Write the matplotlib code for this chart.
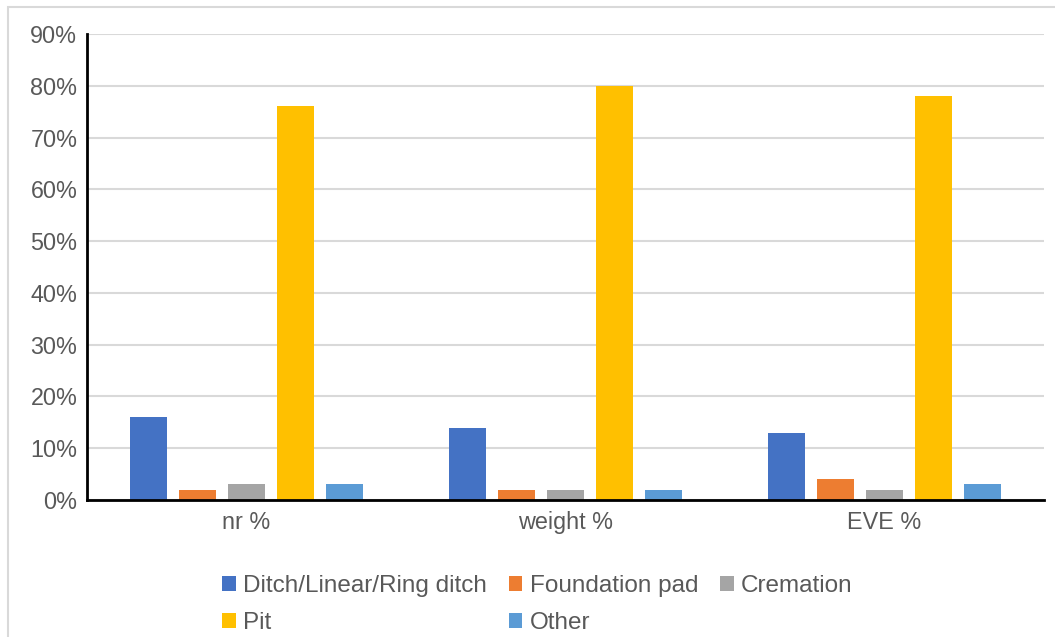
import numpy as np
import matplotlib.pyplot as plt
from matplotlib.patches import Rectangle, Patch
from matplotlib.ticker import FuncFormatter

plt.rcParams['font.family'] = ['Liberation Sans', 'DejaVu Sans']

categories = ['nr %', 'weight %', 'EVE %']
series_names = ['Ditch/Linear/Ring ditch', 'Foundation pad', 'Cremation', 'Pit', 'Other']
ditch = [16, 14, 13]
foundation = [2, 2, 4]
cremation = [3, 2, 2]
pit = [76, 80, 78]
other = [3, 2, 3]
series_values = [ditch, foundation, cremation, pit, other]
colors = ['#4472C4', '#ED7D31', '#A5A5A5', '#FFC000', '#5B9BD5']

FS = 16.8
LFS = 17.5
fig = plt.figure(figsize=(10.55, 6.37), dpi=100)
W, H = 1055, 637
ax = fig.add_axes([87 / W, 1 - 500 / H, (1044 - 87) / W, (500 - 34) / H])

x = np.arange(len(categories))
step = 0.1536
width = 0.119
for i, (vals, col) in enumerate(zip(series_values, colors)):
    ax.bar(x + (i - 2) * step, vals, width=width, color=col, zorder=3)

ax.set_xlim(-0.5, len(categories) - 0.5)
ax.set_ylim(0, 90)
ax.set_yticks(np.arange(0, 91, 10))
ax.yaxis.set_major_formatter(FuncFormatter(lambda v, p: f'{v:.0f}%'))
ax.set_xticks(x)
ax.set_xticklabels(categories)
ax.tick_params(axis='both', length=0, labelsize=FS, colors='#595959')
ax.tick_params(axis='y', pad=7)
ax.tick_params(axis='x', pad=8)
ax.grid(axis='y', color='#D9D9D9', linewidth=1.5, zorder=0)
for s in ['top', 'right']:
    ax.spines[s].set_visible(False)
for s in ['left', 'bottom']:
    ax.spines[s].set_color('black')
    ax.spines[s].set_linewidth(2)
    ax.spines[s].set_zorder(4)

# Legend laid out row-wise in three columns
handles = [Patch(facecolor=c, edgecolor='none') for c in colors]
order = [0, 3, 1, 4, 2]
leg = fig.legend([handles[i] for i in order], [series_names[i] for i in order],
                 ncol=3, loc='upper left', bbox_to_anchor=(222 / W, 1 - 575 / H),
                 frameon=False, fontsize=LFS, handlelength=0.56, handleheight=0.56,
                 handletextpad=0.3, columnspacing=0.9, labelspacing=0.62,
                 borderaxespad=0, borderpad=0)
for t in leg.get_texts():
    t.set_color('#595959')

# Outer chart frame
fig.patches.append(Rectangle((8 / W, -0.1), 1.2, 1 - 7 / H + 0.1,
                             transform=fig.transFigure, fill=False,
                             edgecolor='#D9D9D9', linewidth=1.5))

fig.savefig('out.png', dpi=100)
